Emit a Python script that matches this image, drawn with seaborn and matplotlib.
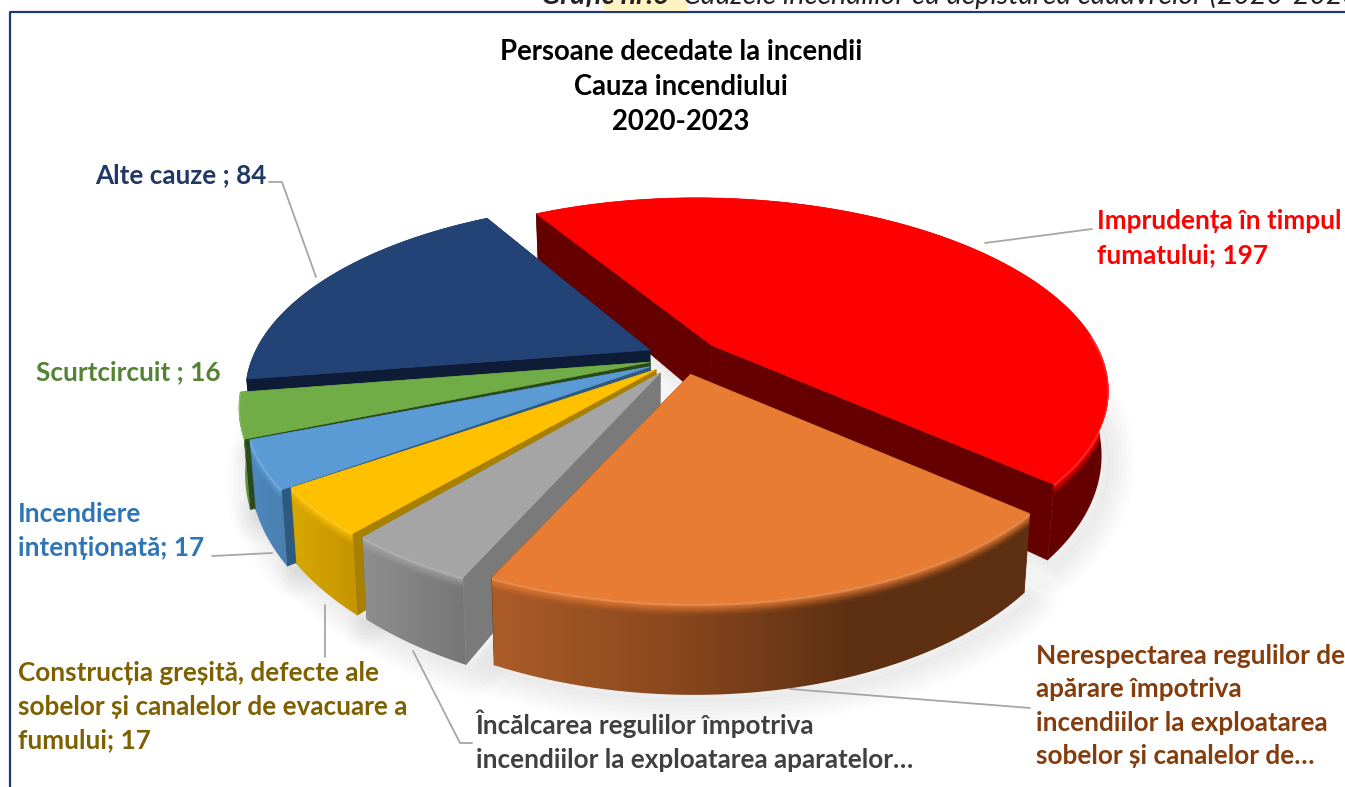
import numpy as np
import matplotlib
matplotlib.use("Agg")
import matplotlib.pyplot as plt
from matplotlib.patches import Polygon, Rectangle
import seaborn as sns

# slice values, orange and grey are truncated in the picture so they are estimates
slice_names = ["Imprudența", "Nerespectarea", "Încălcarea", "Construcția", "Incendiere", "Scurtcircuit", "Alte cauze"]
slice_values = [197, 87, 19, 17, 17, 16, 84]

top_colors = ["#FF0000", "#E97C33", "#A5A5A5", "#FFC000", "#5B9BD5", "#70AD47", "#234276"]
cut_colors = ["#640000", "#5E3012", "#7A7A7A", "#A88000", "#2E5A80", "#2A4A1A", "#0E1C38"]
wall_colors = [
    ["#640000", "#640000"],
    ["#AC5C28", "#8A481E", "#5E3012", "#5E3012"],
    ["#8E8E8E", "#767676"],
    ["#D8A800", "#C49400"],
    ["#4F88BC", "#4A7FB0"],
    ["#5F9E3F", "#5A9040"],
    ["#0E1C38", "#0E1C38"],
]

# how far each slice is pulled out and how large it is, in pie units
shift_x = [0.145, 0.086, 0.025, 0.015, 0.0, 0.0, 0.0]
shift_y = [0.04, -0.092, -0.10, -0.07, -0.075, -0.066, 0.0]
apex_x = [0.157, 0.10, 0.025, 0.015, 0.0, 0.0, 0.0]
apex_y = [0.027, -0.13, -0.123, -0.105, -0.09, -0.066, 0.0]
radius = [0.995, 0.97, 0.96, 0.98, 0.985, 1.0, 1.0]
draw_order = [0, 6, 5, 4, 3, 2, 1]

# perspective view
CX, CY = 650, 350
A, B, P = 394, 181.6, 0.227
DEPTH = 60
SHRINK = 0.985

title_lines = "Persoane decedate la incendii\nCauza incendiului\n2020-2023"
header_bold = "Grafic nr.6"
header_rest = "Cauzele incendiilor cu depistarea cadavrelor (2020-2023)"

labels = [
    ("Imprudența în timpul\nfumatului; 197", 1097, 238, "#FF0000"),
    ("Nerespectarea regulilor de\napărare împotriva\nincendiilor la exploatarea\nsobelor și canalelor de…", 1036, 706, "#843C0C"),
    ("Încălcarea regulilor împotriva\nincendiilor la exploatarea aparatelor…", 476, 741, "#404040"),
    ("Construcția greșită, defecte ale\nsobelor și canalelor de evacuare a\nfumului; 17", 18, 707, "#7F6000"),
    ("Incendiere\nintenționată; 17", 18, 531, "#2E75B6"),
    ("Scurtcircuit ; 16", 36, 372, "#548235"),
    ("Alte cauze ; 84", 95, 175, "#203864"),
]
leaders = [
    ([985, 1092], [243, 229]),
    ([790, 1030], [689, 708]),
    ([413, 460, 472], [651, 743, 743]),
    ([325, 325], [605, 657]),
    ([212, 272], [556, 553]),
    ([269, 282, 316], [182, 182, 277]),
]


def project(x, y):
    s = 1 / (1 + P * y)
    return CX + A * x * s, CY - B * y * s, s


def drop(px, py, s):
    # same point on the underside of the pie
    return CX + (px - CX) * SHRINK, py + DEPTH * s ** 1.5


sns.set_theme(style="white")
plt.rcParams["font.family"] = ["Lato", "Open Sans", "DejaVu Sans"]

fig = plt.figure(figsize=(13.45, 7.87), dpi=100, facecolor="white")
ax = fig.add_axes([0, 0, 1, 1])

# pie only gives the angles, the slices are then redrawn in the tilted view
wedges, _ = ax.pie(slice_values, startangle=119.7, counterclock=False)
angles = [(w.theta1, w.theta2) for w in wedges]
for w in wedges:
    w.remove()

ax.set_aspect("auto")
ax.set_xlim(0, 1345)
ax.set_ylim(787, 0)
ax.axis("off")

geom = []
for i, (t1, t2) in enumerate(angles):
    t = np.radians(np.linspace(t1, t2, 120))
    px, py, s = project(shift_x[i] + radius[i] * np.cos(t), shift_y[i] + radius[i] * np.sin(t))
    bx, by = drop(px, py, s)
    ax0, ay0, s0 = project(apex_x[i], apex_y[i])
    bx0, by0 = drop(ax0, ay0, s0)
    geom.append(dict(t=t, px=px, py=py, bx=bx, by=by, s=s, ax=ax0, ay=ay0, bx0=bx0, by0=by0))

# soft shadow under the pie
for i in draw_order:
    g = geom[i]
    for lw in range(38, 0, -6):
        sx = np.r_[g["bx"] + 7, g["bx0"]]
        sy = np.r_[g["by"] + 6, g["by0"]]
        ax.fill(sx, sy, facecolor="none", edgecolor="#707070", lw=lw, alpha=0.018, zorder=1, joinstyle="round")

z = 2
for i in draw_order:
    g = geom[i]
    # cut faces
    for j in (0, -1):
        ax.fill([g["ax"], g["px"][j], g["bx"][j], g["bx0"]],
                [g["ay"], g["py"][j], g["by"][j], g["by0"]],
                color=cut_colors[i], lw=0.5, zorder=z)
    z += 1

    # outer wall with a left to right gradient
    wall = np.c_[np.r_[g["px"], g["bx"][::-1]], np.r_[g["py"], g["by"][::-1]]]
    patch = Polygon(wall, closed=True, facecolor="none", edgecolor="none", transform=ax.transData)
    ax.add_patch(patch)
    cmap = sns.blend_palette(wall_colors[i], as_cmap=True)
    img = ax.imshow(np.linspace(0, 1, 256)[None, :], cmap=cmap, aspect="auto", zorder=z,
                    extent=(wall[:, 0].min(), wall[:, 0].max(), wall[:, 1].max(), wall[:, 1].min()))
    img.set_clip_path(patch)
    z += 1

    # top surface
    ax.fill(np.r_[g["ax"], g["px"]], np.r_[g["ay"], g["py"]], color=top_colors[i], lw=0.5, zorder=z)
    z += 1

    # soft bevel along the front rim, kept on the wall
    front = np.sin(g["t"]) < 0.05
    if i != 6 and front.any():
        for off in range(0, 14):
            line, = ax.plot(g["px"][front], g["py"][front] + off, color=top_colors[i], lw=1.6,
                            alpha=0.7 * (1 - off / 14) ** 2, zorder=z, solid_capstyle="butt")
            line.set_clip_path(patch)
        ax.plot(g["px"][front], g["py"][front] + 1, color="white", lw=1.5, alpha=0.16,
                zorder=z, solid_capstyle="butt")
        z += 1

ax.set_xlim(0, 1345)
ax.set_ylim(787, 0)

# frame of the chart, only top and left are on the page
ax.plot([10, 10, 1345], [787, 12, 12], color="#1F3A7A", lw=1.6, zorder=z)

for xs, ys in leaders:
    ax.plot(xs, ys, color="#A6A6A6", lw=1.3, zorder=z)

ax.add_patch(Rectangle((604, 0), 83, 11, facecolor="#FFF3C4", edgecolor="none", zorder=z))
ax.text(541, 4, header_bold, style="italic", weight="bold", fontsize=20.5, color="#222222", va="baseline", zorder=z + 1)
ax.text(683, 4, header_rest, style="italic", fontsize=20.5, color="#222222", va="baseline", zorder=z + 1)

ax.text(681, 87, title_lines, ha="center", va="center", weight="bold", fontsize=19.8,
        color="black", linespacing=1.43, zorder=z + 1)

for text, x, y, color in labels:
    ax.text(x, y, text, ha="left", va="center", weight="bold", fontsize=18.8, color=color,
            linespacing=1.48, zorder=z + 1)

fig.savefig("out.png", dpi=100, facecolor="white")
